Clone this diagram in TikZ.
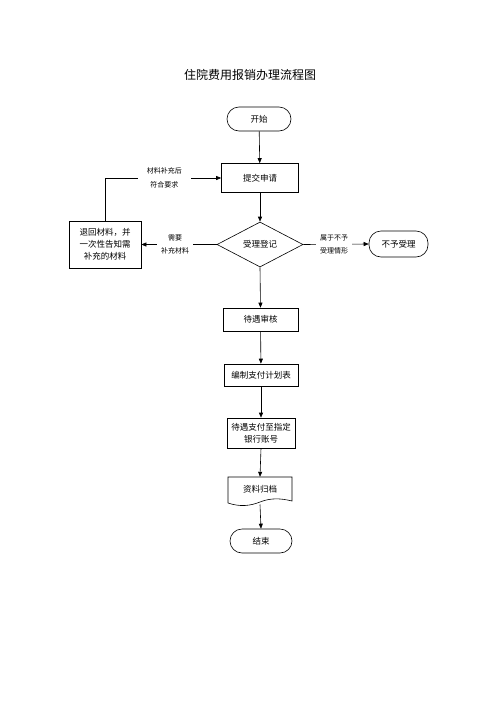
\documentclass[tikz,border=0pt]{standalone}
\usepackage{fontspec}
\setmainfont{Noto Sans CJK SC}
\usetikzlibrary{shapes.geometric,arrows.meta}
\begin{document}
\begin{tikzpicture}[x=1pt,y=-1pt,
  line/.style={draw=black,line width=0.6pt},
  arr/.style={line,-{Triangle[length=5pt,width=4pt]}},
  boxnode/.style={draw,line width=0.6pt,rectangle,inner sep=0pt,font=\fontsize{8.5}{12}\selectfont,align=center},
  lbl/.style={fill=white,inner xsep=4pt,inner ysep=1pt,font=\fontsize{7}{12.5}\selectfont,align=center}]
\useasboundingbox (0,0) rectangle (500,707);
\node[font=\fontsize{12}{14}\selectfont] (title) at (250,75) {住院费用报销办理流程图};
\node[draw,line width=0.6pt,rounded corners=12pt,minimum width=64pt,minimum height=24pt,font=\fontsize{8.5}{11}\selectfont] (start) at (259,119) {开始};
\node[boxnode,minimum width=77pt,minimum height=29pt] (submit) at (260,178) {提交申请};
\node[draw,line width=0.6pt,diamond,aspect=1.9,inner sep=0pt,minimum width=86pt,minimum height=45pt,font=\fontsize{8.5}{11}\selectfont] (reg) at (260,244.5) {受理登记};
\node[boxnode,minimum width=72pt,minimum height=47pt] (ret) at (105,244.5) {退回材料，并\\一次性告知需\\补充的材料};
\node[draw,line width=0.6pt,rounded corners=12pt,minimum width=59pt,minimum height=26pt,font=\fontsize{8.5}{11}\selectfont] (rej) at (398.5,244) {不予受理};
\node[boxnode,minimum width=75pt,minimum height=23pt] (audit) at (260.5,319.5) {待遇审核};
\node[boxnode,minimum width=74pt,minimum height=22pt] (plan) at (261,375) {编制支付计划表};
\node[boxnode,minimum width=68pt,minimum height=30pt] (pay) at (261,433) {待遇支付至指定\\银行账号};
\node[inner sep=0pt,minimum width=64pt,minimum height=24pt,font=\fontsize{8.5}{11}\selectfont] (doc) at (260,489) {资料归档};
\draw[line] (228,477) -- (292,477) -- (292,501)
  .. controls (280,498) and (270,498) .. (260,502)
  .. controls (250,506) and (240,507) .. (228,503) -- cycle;
\node[draw,line width=0.6pt,rounded corners=12pt,minimum width=62pt,minimum height=24pt,font=\fontsize{8.5}{11}\selectfont] (end) at (261,541) {结束};
\coordinate (docb) at (260,504.5);
% connectors
\draw[arr] (start) -- (submit);
\draw[arr] (submit) -- (reg);
\draw[arr] (reg.west) -- node[lbl,pos=0.55] {需要\\补充材料} (ret.east);
\draw[arr] (reg.east) -- node[lbl,pos=0.47] {属于不予\\受理情形} (rej.west);
\draw[arr] (ret.north) |- node[lbl,pos=0.756,inner xsep=9pt,font=\fontsize{7}{14}\selectfont] {材料补充后\\符合要求} (submit.west);
\draw[arr] (reg.south) -- (audit.north);
\draw[arr] (audit) -- (plan);
\draw[arr] (plan) -- (pay);
\draw[arr] (pay.south) -- (doc.north);
\draw[arr] (docb) -- (end.north);
\end{tikzpicture}
\end{document}
